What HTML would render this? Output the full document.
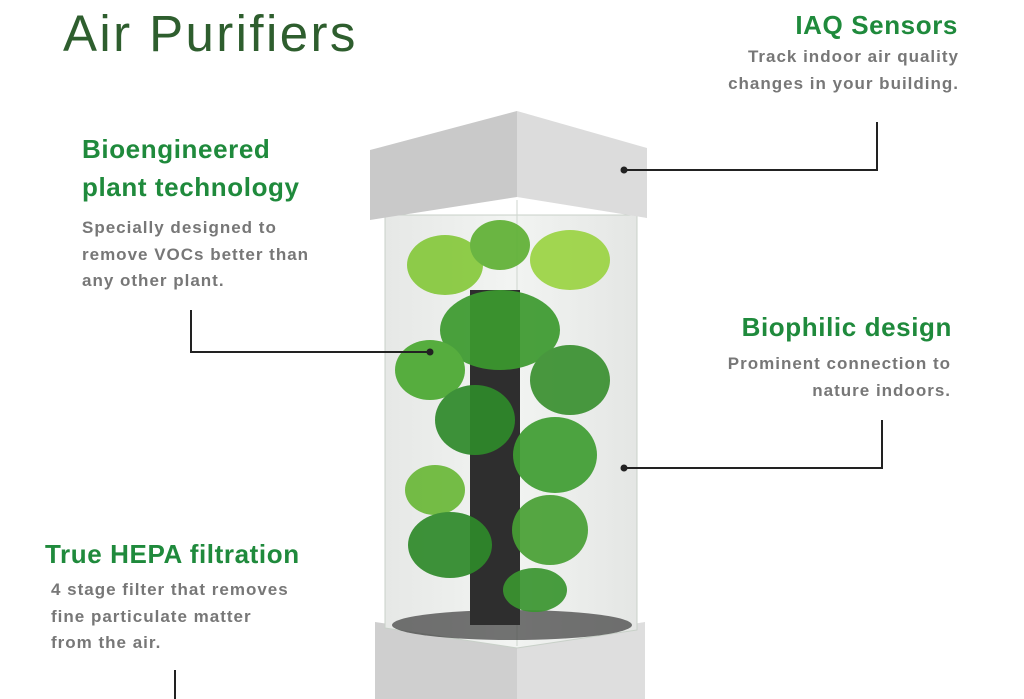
<!DOCTYPE html>
<html><head><meta charset="utf-8"><style>
body{margin:0;width:1024px;height:699px;overflow:hidden;background:#fff;font-family:"Liberation Sans",sans-serif;position:relative}
.t{position:absolute;white-space:nowrap;line-height:1}
.h{color:#1f8a3c;font-weight:bold;font-size:26px;letter-spacing:.6px}
.b{color:#777;font-weight:bold;font-size:17px;letter-spacing:1px;line-height:26.5px}
.r{text-align:right}
</style></head><body>
<svg width="1024" height="699" style="position:absolute;left:0;top:0">
<defs><linearGradient id="g" x1="0" x2="1"><stop offset="0" stop-color="#e6e8e6"/><stop offset=".5" stop-color="#f2f4f2"/><stop offset="1" stop-color="#e4e6e4"/></linearGradient></defs>
<polygon points="375,622 517,642 517,699 375,699" fill="#cfcfcf"/>
<polygon points="517,642 645,622 645,699 517,699" fill="#dedede"/>
<polygon points="385,215 637,215 637,630 517,648 385,628" fill="url(#g)" stroke="#c8d0c8"/>
<line x1="517" y1="200" x2="517" y2="646" stroke="#cfd6cf"/>
<ellipse cx="512" cy="625" rx="120" ry="15" fill="#3a3a3a" opacity=".7"/>
<rect x="470" y="290" width="50" height="335" fill="#2e2e2e"/>
<g opacity=".92">
<ellipse cx="445" cy="265" rx="38" ry="30" fill="#86c93c"/>
<ellipse cx="570" cy="260" rx="40" ry="30" fill="#9bd443"/>
<ellipse cx="500" cy="245" rx="30" ry="25" fill="#5fb034"/>
<ellipse cx="500" cy="330" rx="60" ry="40" fill="#3c9a2e"/>
<ellipse cx="430" cy="370" rx="35" ry="30" fill="#4aa830"/>
<ellipse cx="570" cy="380" rx="40" ry="35" fill="#3a9030"/>
<ellipse cx="475" cy="420" rx="40" ry="35" fill="#2f8a2a"/>
<ellipse cx="555" cy="455" rx="42" ry="38" fill="#3f9d32"/>
<ellipse cx="435" cy="490" rx="30" ry="25" fill="#6ab838"/>
<ellipse cx="450" cy="545" rx="42" ry="33" fill="#2f8a2a"/>
<ellipse cx="550" cy="530" rx="38" ry="35" fill="#48a034"/>
<ellipse cx="535" cy="590" rx="32" ry="22" fill="#3a9530"/>
</g>
<polygon points="370,150 517,111 517,197 370,220" fill="#c9c9c9"/>
<polygon points="517,111 647,148 647,218 517,197" fill="#dcdcdc"/>
<g stroke="#222" stroke-width="2" fill="none">
<polyline points="624,170 877,170 877,122"/>
<polyline points="191,310 191,352 430,352"/>
<polyline points="624,468 882,468 882,420"/>
<line x1="175" y1="670" x2="175" y2="699"/>
</g>
<g fill="#222"><circle cx="624" cy="170" r="3.5"/><circle cx="430" cy="352" r="3.5"/><circle cx="624" cy="468" r="3.5"/></g>
</svg>
<div class="t" style="left:63px;top:8px;font-size:51px;color:#2e5e2e;letter-spacing:2.4px">Air Purifiers</div>
<div class="t h r" style="right:66px;top:12px">IAQ Sensors</div>
<div class="t b r" style="right:65px;top:44px">Track indoor air quality<br>changes in your building.</div>
<div class="t h" style="left:82px;top:130px;line-height:38px">Bioengineered<br>plant technology</div>
<div class="t b" style="left:82px;top:215px">Specially designed to<br>remove VOCs better than<br>any other plant.</div>
<div class="t h r" style="right:72px;top:314px">Biophilic design</div>
<div class="t b r" style="right:73px;top:351px">Prominent connection to<br>nature indoors.</div>
<div class="t h" style="left:45px;top:541px">True HEPA filtration</div>
<div class="t b" style="left:51px;top:577px">4 stage filter that removes<br>fine particulate matter<br>from the air.</div>
</body></html>
